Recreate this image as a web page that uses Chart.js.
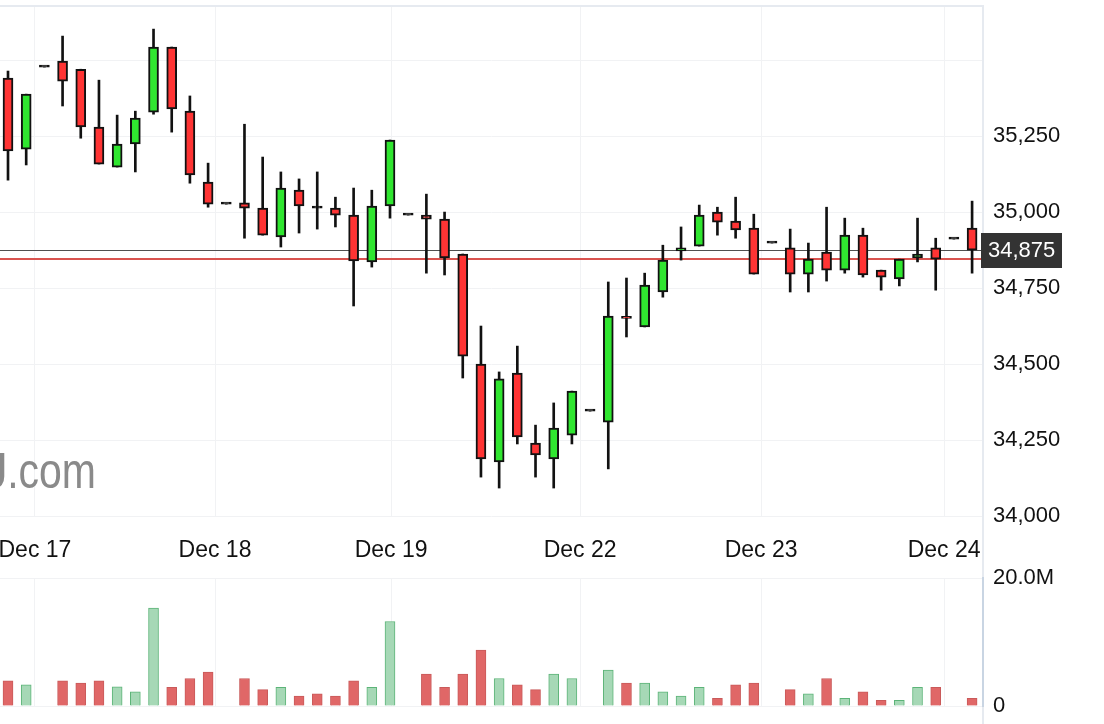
<!DOCTYPE html>
<html>
<head>
<meta charset="utf-8">
<script src="https://cdn.jsdelivr.net/npm/chart.js@4.4.1/dist/chart.umd.min.js"></script>
<style>
  html, body { margin: 0; padding: 0; background: #ffffff; }
  #wrap { position: relative; width: 1104px; height: 724px; overflow: hidden; background: #fff; }
  #price { position: absolute; left: 0; top: 0; }
  #vol { position: absolute; left: 0; top: 540px; }
</style>
</head>
<body>
<div id="wrap">
  <canvas id="price" width="1104" height="570"></canvas>
  <canvas id="vol" width="1104" height="184"></canvas>
</div>
<script>
// ---------------- DATA ----------------
const opens  = [35441,35207,35477,35497,35470,35280,35148,35224,35329,35543,35332,35099,35026,35030,35013,34918,35072,35014,35013,34990,34836,35020,34990,34990,34977,34862,34500,34178,34470,34240,34188,34266,34345,34309,34656,34622,34737,34872,34888,35000,34970,34947,34898,34882,34796,34868,34809,34924,34809,34780,34849,34882,34911,34947];
const highs  = [35464,35388,35477,35579,35470,35434,35319,35332,35602,35543,35382,35161,35026,35289,35181,35132,35109,35132,35049,35079,35072,35237,34990,35059,35000,34862,34625,34474,34559,34299,34372,34411,34345,34770,34783,34799,34891,34951,35023,35016,35049,34993,34898,34944,34898,35016,34980,34947,34809,34845,34980,34914,34911,35036];
const lows   = [35105,35155,35477,35349,35243,35158,35148,35132,35322,35263,35095,35016,35026,34914,34924,34885,34931,34944,34951,34691,34819,34980,34990,34799,34793,34454,34128,34092,34237,34128,34092,34237,34345,34155,34589,34622,34720,34842,34888,34924,34914,34796,34898,34737,34737,34773,34799,34786,34743,34757,34836,34743,34911,34799];
const closes = [35201,35388,35477,35431,35280,35158,35224,35309,35543,35339,35122,35026,35026,35013,34924,35079,35020,35013,34990,34839,35020,35237,34990,34977,34849,34526,34188,34451,34260,34201,34289,34411,34345,34658,34650,34760,34842,34882,34990,34967,34941,34796,34898,34796,34845,34809,34924,34793,34786,34845,34862,34845,34911,34875];
// volume in millions (null = no volume bar)
const volumes = [3.95,3.3,null,3.95,3.6,3.95,3.0,2.2,15.3,2.9,4.3,5.3,null,4.3,2.55,2.9,1.56,1.9,1.56,3.95,2.9,13.2,null,5.0,2.9,5.0,8.75,4.3,3.3,2.55,5.0,4.3,null,5.6,3.6,3.6,2.2,1.56,2.9,1.2,3.3,3.6,null,2.55,1.9,4.3,1.2,2.2,0.9,0.9,2.9,2.9,null,1.2];

const dayLabels    = ['Dec 17','Dec 18','Dec 19','Dec 22','Dec 23','Dec 24'];
const dayPositions = [1.48, 11.38, 21.06, 31.45, 41.4, 51.46]; // in candle-index units
const priceTickLabels = [34000, 34250, 34500, 34750, 35000, 35250];
const priceGridValues = [34000, 34250, 34500, 34750, 35000, 35250, 35500];
const volumeTicks = [0, 20];
const volumeTickLabels = ['0', '20.0M'];
const lastPrice = 34875;
const refPrice = 34845;
const watermarkBold = 'WSJ';
const watermarkRest = '.com';

// ---------------- STYLE ----------------
const FONT = "'Liberation Sans', Arial, Helvetica, sans-serif";
Chart.defaults.font.family = FONT;
Chart.defaults.color = '#111';

const RED = '#ff3434', GREEN = '#30e630', EDGE = '#e6eaf0', GRID = '#f1f2f4', INK = '#111111';
const X_MIN = -0.44, X_MAX = 53.6;
const AXIS_W = 121;

const idx = opens.map((_, i) => i);
const up = idx.map(i => closes[i] >= opens[i]);
const flat = idx.map(i => Math.abs(closes[i] - opens[i]) < 4);

function noPad(s) { s.paddingLeft = 0; s.paddingRight = 0; s.paddingTop = 0; s.paddingBottom = 0; }

const pricePlugin = {
  id: 'priceDecor',
  beforeDatasetsDraw(chart) {
    const { ctx, chartArea: a, scales: { y } } = chart;
    ctx.save();
    ctx.beginPath();
    ctx.rect(a.left, a.top, a.right - a.left, a.bottom - a.top);
    ctx.clip();
    ctx.fillStyle = '#8a8a8a';
    ctx.textBaseline = 'alphabetic';
    ctx.translate(96, 488);
    ctx.scale(0.82, 1);
    ctx.textAlign = 'right';
    ctx.font = '50px ' + FONT;
    ctx.fillText(watermarkRest, 0, 0);
    const w = ctx.measureText(watermarkRest).width;
    ctx.font = 'bold 50px ' + FONT;
    ctx.fillText(watermarkBold, -w, 0);
    ctx.restore();

    ctx.save();
    const yr = Math.round(y.getPixelForValue(refPrice));
    ctx.strokeStyle = '#d9534f';
    ctx.lineWidth = 2;
    ctx.beginPath(); ctx.moveTo(a.left, yr); ctx.lineTo(a.right, yr); ctx.stroke();
    const yl = Math.round(y.getPixelForValue(lastPrice)) + 0.5;
    ctx.strokeStyle = '#505050';
    ctx.lineWidth = 1.2;
    ctx.beginPath(); ctx.moveTo(a.left, yl); ctx.lineTo(a.right, yl); ctx.stroke();
    ctx.restore();
  },
  afterDraw(chart) {
    const { ctx, chartArea: a, scales: { y } } = chart;
    ctx.save();
    ctx.strokeStyle = EDGE;
    ctx.lineWidth = 2;
    ctx.beginPath(); ctx.moveTo(0, a.top); ctx.lineTo(a.right + 1, a.top); ctx.stroke();
    ctx.beginPath(); ctx.moveTo(a.right, a.top); ctx.lineTo(a.right, chart.height); ctx.stroke();
    const yl = y.getPixelForValue(lastPrice);
    ctx.fillStyle = '#333333';
    ctx.fillRect(981, Math.round(yl) - 17, 81, 35);
    ctx.fillStyle = '#ffffff';
    ctx.font = '22px ' + FONT;
    ctx.textAlign = 'left';
    ctx.textBaseline = 'middle';
    ctx.fillText(lastPrice.toLocaleString('en-US'), 988, Math.round(yl) + 1);
    ctx.restore();
  }
};

new Chart(document.getElementById('price'), {
  type: 'bar',
  data: {
    datasets: [
      {
        label: 'body',
        data: idx.map(i => ({ x: i, y: [opens[i], closes[i]] })),
        backgroundColor: idx.map(i => flat[i] ? INK : (up[i] ? GREEN : RED)),
        borderColor: INK,
        borderWidth: 2,
        borderSkipped: false,
        barThickness: 10,
        minBarLength: 2,
        grouped: false,
        order: 0
      },
      {
        label: 'wick',
        data: idx.map(i => ({ x: i, y: [lows[i], highs[i]] })),
        backgroundColor: INK,
        borderWidth: 0,
        barThickness: 2,
        grouped: false,
        order: 1
      }
    ]
  },
  options: {
    responsive: false,
    animation: false,
    events: [],
    layout: { padding: { top: 6, left: 0, right: 0, bottom: 0 } },
    plugins: { legend: { display: false }, tooltip: { enabled: false } },
    scales: {
      x: {
        type: 'linear',
        min: X_MIN, max: X_MAX,
        offset: false,
        grid: { offset: false, color: GRID, lineWidth: 1, drawTicks: false },
        border: { display: false },
        afterBuildTicks: s => { s.ticks = dayPositions.map(v => ({ value: v })); },
        afterFit: s => { s.height = 54; noPad(s); },
        ticks: {
          autoSkip: false, maxRotation: 0, padding: 21,
          font: { size: 23 }, color: '#111',
          callback: (v, i) => dayLabels[i]
        }
      },
      y: {
        type: 'linear',
        position: 'right',
        min: 34000, max: 35678,
        grid: { color: GRID, lineWidth: 1, drawTicks: false },
        border: { display: false },
        afterBuildTicks: s => { s.ticks = priceGridValues.map(v => ({ value: v })); },
        afterFit: s => { s.width = AXIS_W; noPad(s); },
        ticks: {
          padding: 10,
          font: { size: 22 }, color: '#111',
          callback: v => priceTickLabels.includes(v) ? v.toLocaleString('en-US') : ''
        }
      }
    }
  },
  plugins: [pricePlugin]
});

const volPlugin = {
  id: 'volEdge',
  beforeDraw(chart) {
    const { ctx, chartArea: a } = chart;
    ctx.save();
    ctx.strokeStyle = EDGE;
    ctx.lineWidth = 2;
    ctx.beginPath(); ctx.moveTo(a.right, 30); ctx.lineTo(a.right, chart.height); ctx.stroke();
    ctx.restore();
  }
};

new Chart(document.getElementById('vol'), {
  type: 'bar',
  data: {
    datasets: [{
      label: 'volume',
      data: idx.map(i => ({ x: i, y: volumes[i] })),
      backgroundColor: idx.map(i => up[i] ? '#a6d8b6' : '#e06767'),
      borderColor: idx.map(i => up[i] ? '#5cb478' : '#c95a5a'),
      borderWidth: 1,
      barThickness: 10,
      grouped: false
    }]
  },
  options: {
    responsive: false,
    animation: false,
    events: [],
    layout: { padding: { top: 38, left: 0, right: 0, bottom: 18 } },
    plugins: { legend: { display: false }, tooltip: { enabled: false } },
    scales: {
      x: {
        type: 'linear',
        min: X_MIN, max: X_MAX,
        offset: false,
        grid: { offset: false, color: GRID, lineWidth: 1, drawTicks: false },
        border: { display: false },
        afterBuildTicks: s => { s.ticks = dayPositions.map(v => ({ value: v })); },
        afterFit: s => { s.height = 0; noPad(s); },
        ticks: { display: false }
      },
      y: {
        type: 'linear',
        position: 'right',
        min: 0, max: 20,
        grid: { color: GRID, lineWidth: 1, drawTicks: false },
        border: { display: true, color: '#c9d5e3', width: 2 },
        afterBuildTicks: s => { s.ticks = volumeTicks.map(v => ({ value: v })); },
        afterFit: s => { s.width = AXIS_W; noPad(s); },
        ticks: {
          padding: 10,
          font: { size: 22 }, color: '#111',
          callback: (v, i) => volumeTickLabels[i]
        }
      }
    }
  },
  plugins: [volPlugin]
});
</script>
</body>
</html>
